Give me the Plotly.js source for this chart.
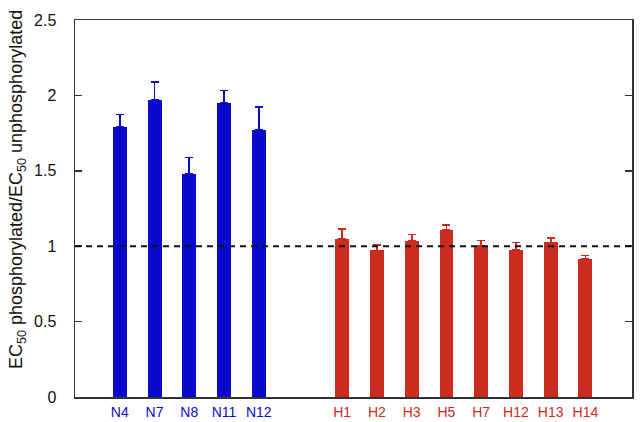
<!DOCTYPE html>
<html>
<head>
<meta charset="utf-8">
<script src="https://cdn.plot.ly/plotly-3.0.1.min.js"></script>
<style>html,body{margin:0;padding:0;background:#fff;}#chart{width:640px;height:422px;}</style>
</head>
<body>
<div id="chart"></div>
<script>
// Data
const nLabels = ["N4", "N7", "N8", "N11", "N12"];
const nValues = [1.79, 1.97, 1.48, 1.95, 1.77];
const nErrors = [0.084, 0.12, 0.108, 0.082, 0.154];

const hLabels = ["H1", "H2", "H3", "H5", "H7", "H12", "H13", "H14"];
const hValues = [1.05, 0.972, 1.034, 1.107, 1.003, 0.974, 1.025, 0.917];
const hErrors = [0.066, 0.038, 0.044, 0.031, 0.035, 0.051, 0.027, 0.022];

const referenceLine = 1;
const yTicks = [0, 0.5, 1, 1.5, 2, 2.5];
const yTitle = "EC<sub>50</sub> phosphorylated/EC<sub>50</sub> unphosphorylated";

const blue = "#0a0acb";
const red = "#cc2b1f";
const gap = 2.4; // spacing between groups in bar units

const nX = nLabels.map((_, i) => i);
const hX = hLabels.map((_, i) => nLabels.length - 1 + gap + i);

const traces = [
  {
    type: "bar", x: nX, y: nValues, width: 0.4,
    marker: {color: blue, line: {width: 0}},
    error_y: {type: "data", array: nErrors, symmetric: false, arrayminus: nErrors.map(() => 0), color: blue, thickness: 1.8, width: 4},
    hoverinfo: "skip"
  },
  {
    type: "bar", x: hX, y: hValues, width: 0.4,
    marker: {color: red, line: {width: 0}},
    error_y: {type: "data", array: hErrors, symmetric: false, arrayminus: hErrors.map(() => 0), color: red, thickness: 1.8, width: 4},
    hoverinfo: "skip"
  }
];

const tickvals = nX.concat(hX);
const ticktext = nLabels.map(t => '<span style="color:' + blue + '">' + t + '</span>')
  .concat(hLabels.map(t => '<span style="color:' + red + '">' + t + '</span>'));

const layout = {
  width: 640, height: 422,
  margin: {l: 75, r: 8, t: 20, b: 25},
  paper_bgcolor: "#fff", plot_bgcolor: "#fff",
  showlegend: false,
  font: {family: "Liberation Sans, Arial, sans-serif", color: "#111"},
  bargap: 0,
  xaxis: {
    range: [-1.29, 14.74],
    tickvals: tickvals, ticktext: ticktext,
    ticks: "", showgrid: false, zeroline: false,
    showline: true, linecolor: "#333", linewidth: 1.5, mirror: true,
    tickfont: {size: 14},
    ticklabelstandoff: 2,
    fixedrange: true
  },
  yaxis: {
    range: [0, 2.5],
    tickvals: yTicks, ticktext: yTicks.map(String),
    ticks: "inside", ticklen: 7, tickwidth: 1.5, tickcolor: "#333",
    showgrid: false, zeroline: false,
    showline: true, linecolor: "#333", linewidth: 1.5, mirror: "ticks",
    tickfont: {size: 16, color: "#111"},
    ticklabelstandoff: 14,
    fixedrange: true
  },
  annotations: [{
    text: yTitle, textangle: -90,
    xref: "paper", yref: "paper", x: -0.104, y: 0.549,
    xanchor: "center", yanchor: "middle", showarrow: false,
    font: {size: 18, color: "#111"}
  }],
  shapes: [{
    type: "line", xref: "paper", x0: 0, x1: 1, yref: "y", y0: referenceLine, y1: referenceLine,
    line: {color: "#111", width: 2, dash: "6px,5px"}, layer: "above"
  }]
};

Plotly.newPlot("chart", traces, layout, {displayModeBar: false, staticPlot: true});
</script>
</body>
</html>
